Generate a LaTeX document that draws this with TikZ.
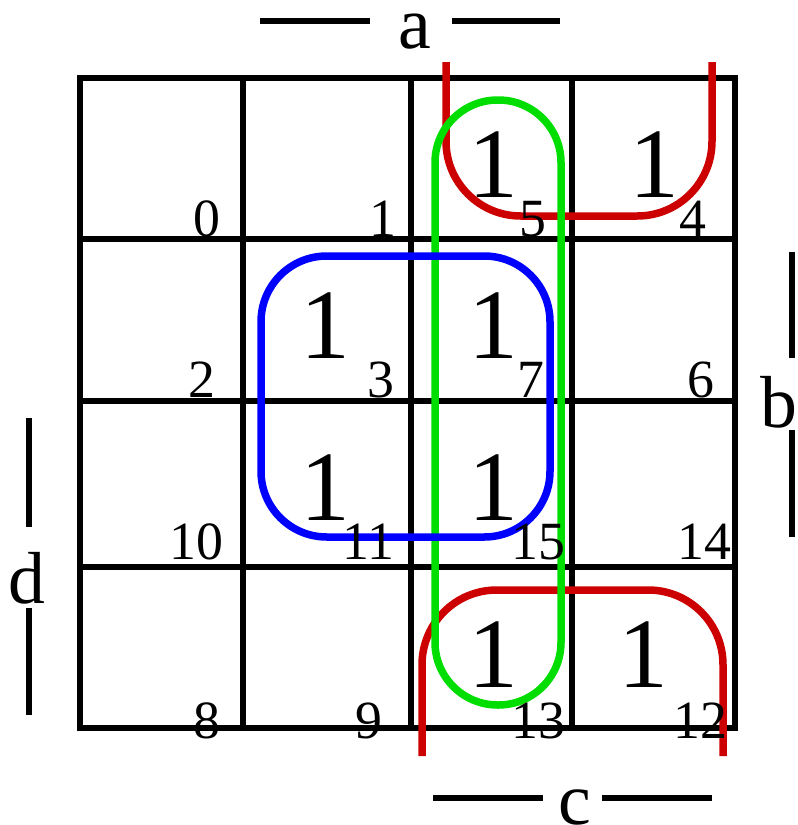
\documentclass[tikz,border=0pt]{standalone}
\usepackage{fontspec}
\setmainfont{Liberation Serif}
\definecolor{kred}{HTML}{CC0000}
\definecolor{kgreen}{HTML}{00DD00}
\definecolor{kblue}{HTML}{0000FF}
\begin{document}
\begin{tikzpicture}[x=1bp,y=-1bp,
  gridline/.style={line width=5.5bp,line cap=rect},
  idx/.style={font=\fontsize{54}{54}\selectfont,inner sep=0pt,anchor=base},
  one/.style={font=\fontsize{100}{100}\selectfont,inner sep=0pt,anchor=base},
  var/.style={font=\fontsize{74}{74}\selectfont,inner sep=0pt,anchor=base},
  bar/.style={line width=6bp},
  grp/.style={line width=7.5bp}]
\useasboundingbox (0,0) rectangle (798,825);
% grid
\draw[gridline] (80,78) rectangle (735,728);
\foreach \x in {243,411,572} \draw[gridline] (\x,78) -- (\x,728);
\foreach \y in {239,401,567} \draw[gridline] (80,\y) -- (735,\y);
% groups
\draw[grp,kred,rounded corners=75] (446,62) -- (446,216) -- (712,216) -- (712,62);
\draw[grp,kred,rounded corners=75] (422,756) -- (422,590) -- (723,590) -- (723,756);
\draw[grp,kgreen,rounded corners=62.9] (435,100) rectangle (561,705);
\draw[grp,kblue,rounded corners=66] (261,256) rectangle (550,537);
% cell indices
\node[idx] (n0) at (207,236) {0};
\node[idx] (n1) at (383,236) {1};
\node[idx] (n5) at (533,236) {5};
\node[idx] (n4) at (693,236) {4};
\node[idx] (n2) at (202,397) {2};
\node[idx] (n3) at (381,397) {3};
\node[idx] (n7) at (531,397) {7};
\node[idx] (n6) at (701,397) {6};
\node[idx] (n10) at (196,559) {10};
\node[idx] (n11) at (368,559) {11};
\node[idx] (n15) at (538,559) {15};
\node[idx] (n14) at (704,559) {14};
\node[idx] (n8) at (207,738) {8};
\node[idx] (n9) at (369,738) {9};
\node[idx] (n13) at (538,738) {13};
\node[idx] (n12) at (700,738) {12};
% ones
\node[one] (o5) at (493,197) {1};
\node[one] (o4) at (654,197) {1};
\node[one] (o3) at (325,358) {1};
\node[one] (o7) at (493,358) {1};
\node[one] (o11) at (325,520) {1};
\node[one] (o15) at (493,520) {1};
\node[one] (o13) at (493,687) {1};
\node[one] (o12) at (643,687) {1};
% variable labels
\node[var] (la) at (415,48) {a};
\draw[bar] (260,21) -- (370,21);
\draw[bar] (452,21) -- (560,21);
\node[var] (lb) at (779,427) {b};
\draw[bar] (792,252) -- (792,358);
\draw[bar] (792,430) -- (792,537);
\node[var] (ld) at (27,603) {d};
\draw[bar] (29,418) -- (29,527);
\draw[bar] (29,608) -- (29,715);
\node[var] (lc) at (575,824) {c};
\draw[bar] (433,798) -- (543,798);
\draw[bar] (602,798) -- (712,798);
\end{tikzpicture}
\end{document}
